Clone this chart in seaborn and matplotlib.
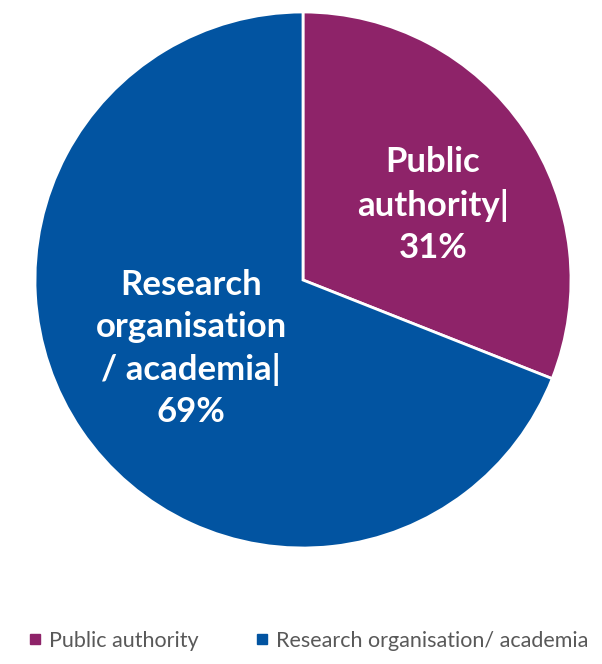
import numpy as np
import matplotlib
matplotlib.use("Agg")
import matplotlib.pyplot as plt
import seaborn as sns
from matplotlib.lines import Line2D

categories = ["Public authority", "Research organisation/ academia"]
labels_inside = ["Public\nauthority|\n31%", "Research\norganisation\n/ academia|\n69%"]
values = [31, 69]
colors = ["#8E2369", "#0254A1"]

sns.set_theme(style="white")
plt.rcParams['font.family'] = ['Lato', 'DejaVu Sans']

fig = plt.figure(figsize=(6.02, 6.64), dpi=100)
ax = fig.add_axes([35/602, (664-548)/664, 536/602, 536/664])
wedges, _ = ax.pie(values, colors=colors, startangle=90, counterclock=False,
                   radius=1, wedgeprops=dict(edgecolor="white", linewidth=2))
ax.set_xlim(-1, 1)
ax.set_ylim(-1, 1)
ax.axis("off")

dists = [0.56, 0.49]
ang_offsets = [-4.2, -2.7]
for w, lab, d, off in zip(wedges, labels_inside, dists, ang_offsets):
    ang = np.deg2rad((w.theta1 + w.theta2) / 2 + off)
    ax.text(d * np.cos(ang), d * np.sin(ang), lab, ha="center", va="center",
            color="white", fontsize=25, fontweight="bold", linespacing=1.38)

handles = [Line2D([0], [0], marker="s", linestyle="none", markersize=7,
                  markerfacecolor=c, markeredgecolor=c) for c in colors]
fig.legend(handles, categories, loc="center", bbox_to_anchor=(0.511, 1 - 641/664),
           ncol=2, frameon=False, fontsize=15.5, labelcolor="#595959",
           handletextpad=0.3, columnspacing=2.6, handlelength=0.7)

fig.savefig("out.png", dpi=100)
